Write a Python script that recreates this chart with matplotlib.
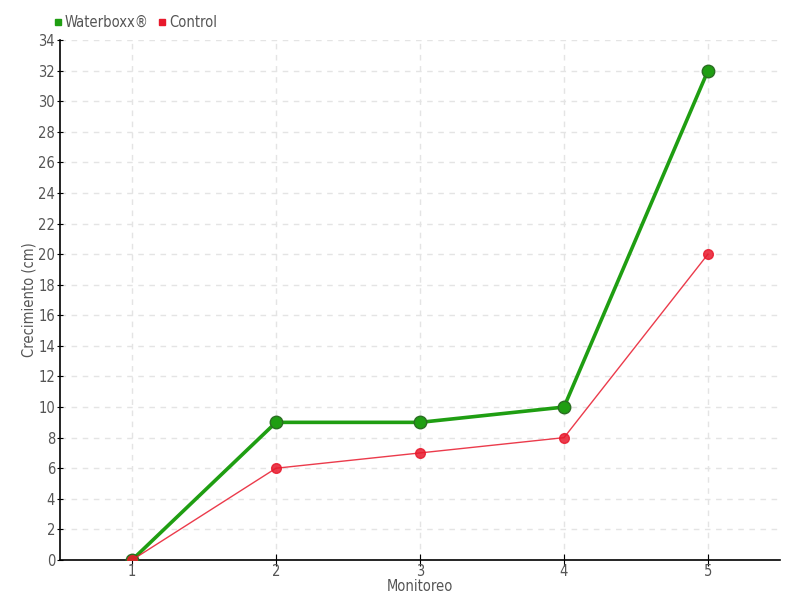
import matplotlib
matplotlib.use("Agg")
import matplotlib.pyplot as plt
from matplotlib.lines import Line2D

monitoreo = [1, 2, 3, 4, 5]
waterboxx = [0, 9, 9, 10, 32]
control = [0, 6, 7, 8, 20]

GREEN = "#1f9e12"
RED = "#e8192c"
TEXT = "#555555"

plt.rcParams["font.family"] = ["DejaVu Sans"]
plt.rcParams["font.stretch"] = "condensed"

fig = plt.figure(figsize=(8, 6), dpi=100)
ax = fig.add_axes([60 / 800, 40 / 600, 720 / 800, 520 / 600])

ax.plot(monitoreo, waterboxx, color=GREEN, linewidth=2.6, marker="o", markersize=9,
        markerfacecolor=GREEN, markeredgecolor="#2a6e22", markeredgewidth=1, zorder=3)
ax.plot(monitoreo, control, color=RED, linewidth=1, alpha=0.85, marker="o", markersize=7,
        markerfacecolor=RED, markeredgecolor=RED, zorder=4)

ax.set_xlim(0.5, 5.5)
ax.set_ylim(0, 34)
ax.set_xticks(monitoreo)
ax.set_yticks(range(0, 35, 2))
ax.grid(True, color="#e4e4e4", linestyle=(0, (4, 4)), linewidth=1)
ax.set_axisbelow(True)

for side in ("top", "right"):
    ax.spines[side].set_visible(False)
ax.spines["left"].set_linewidth(1.2)
ax.spines["bottom"].set_linewidth(1.2)

ax.tick_params(axis="both", colors="black", labelcolor=TEXT, labelsize=10.5)
ax.tick_params(axis="y", direction="inout", length=5, pad=1)
ax.tick_params(axis="x", direction="inout", length=8, pad=-1)

ax.set_xlabel("Monitoreo", color=TEXT, fontsize=10.5, labelpad=0)
ax.set_ylabel("Crecimiento (cm)", color=TEXT, fontsize=10.5, labelpad=1)

handles = [
    Line2D([], [], linestyle="none", marker="s", markersize=5, color=GREEN),
    Line2D([], [], linestyle="none", marker="s", markersize=5, color=RED),
]
fig.legend(handles, ["Waterboxx®", "Control"], loc="upper left",
           bbox_to_anchor=(40 / 800, 1 - 2 / 600), ncol=2, frameon=False,
           handlelength=0.6, handletextpad=0.2, columnspacing=0.6,
           fontsize=10.5, labelcolor=TEXT)

fig.savefig("out.png", dpi=100)
